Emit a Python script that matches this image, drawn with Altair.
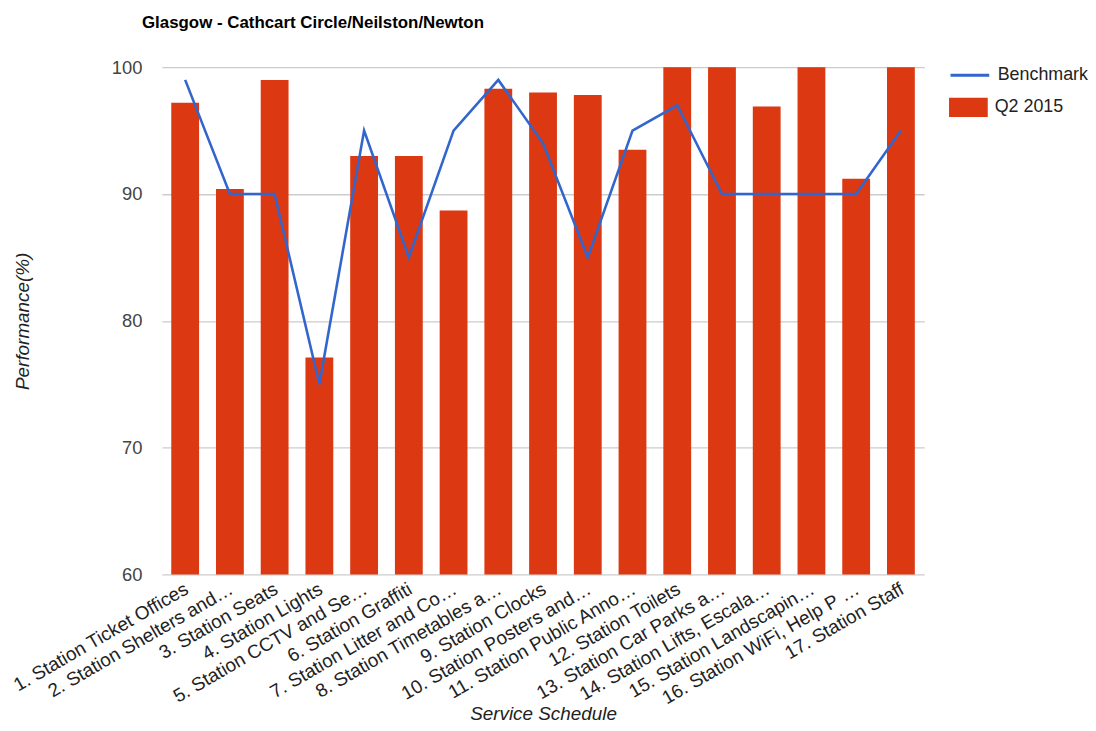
import altair as alt
import pandas as pd

categories = [
    "1. Station Ticket Offices",
    "2. Station Shelters and…",
    "3. Station Seats",
    "4. Station Lights",
    "5. Station CCTV and Se…",
    "6. Station Graffiti",
    "7. Station Litter and Co…",
    "8. Station Timetables a…",
    "9. Station Clocks",
    "10. Station Posters and…",
    "11. Station Public Anno…",
    "12. Station Toilets",
    "13. Station Car Parks a…",
    "14. Station Lifts, Escala…",
    "15. Station Landscapin…",
    "16. Station WiFi, Help P …",
    "17. Station Staff",
]
q2_2015 = [97.2, 90.4, 99.0, 77.1, 93.0, 93.0, 88.7, 98.3, 98.0, 97.8, 93.5, 100, 100, 96.9, 100, 91.2, 100]
benchmark = [99, 90, 90, 75, 95, 85, 95, 99, 94, 85, 95, 97, 90, 90, 90, 90, 95]

df = pd.DataFrame({"cat": categories, "q2": q2_2015, "bench": benchmark})

FONT = "Liberation Sans"

x = alt.X(
    "cat:N",
    sort=categories,
    scale=alt.Scale(paddingInner=0.378, paddingOuter=0.21),
    axis=alt.Axis(
        title="Service Schedule",
        titleFont=FONT, titleFontSize=19, titleFontStyle="italic", titleFontWeight="normal",
        titleColor="#222222", titleY=146, titleBaseline="alphabetic",
        labelAngle=-30, labelAlign="right", labelBaseline="top",
        labelFont=FONT, labelFontSize=19, labelColor="#222222", labelPadding=5,
        labelOffset=-3,
        labelLimit=0, labelOverlap=False, ticks=False, domain=False, grid=False,
    ),
)

yaxis = alt.Axis(
    title="Performance(%)",
    titleFont=FONT, titleFontSize=19, titleFontStyle="italic", titleFontWeight="normal",
    titleColor="#222222", titleX=-140, titleBaseline="middle",
    values=[60, 70, 80, 90, 100],
    labelFont=FONT, labelFontSize=18.5, labelColor="#444444", labelPadding=20,
    ticks=False, domain=False, grid=True, gridColor="#cccccc", gridWidth=1.3,
)
yscale = alt.Scale(domain=[60, 100], nice=False, zero=False)

bars = alt.Chart(df).mark_bar().encode(
    x=x,
    y=alt.Y("q2:Q", scale=yscale, axis=yaxis),
    y2=alt.datum(60),
    color=alt.Color(
        "series:N",
        scale=alt.Scale(domain=["Q2 2015"], range=["#DC3912"]),
        legend=alt.Legend(
            title=None, orient="none", legendX=793, legendY=21, padding=0,
            symbolType="M-1,-0.5H1V0.5H-1Z", symbolSize=1521, symbolStrokeWidth=0,
            labelFont=FONT, labelFontSize=18, labelColor="#222222", labelOffset=7,
        ),
    ),
).transform_calculate(series="'Q2 2015'")

line = alt.Chart(df).mark_line(strokeWidth=2.6).encode(
    x=x,
    y=alt.Y("bench:Q", scale=yscale, axis=yaxis),
    stroke=alt.Stroke(
        "series:N",
        scale=alt.Scale(domain=["Benchmark"], range=["#3366CC"]),
        legend=alt.Legend(
            title=None, orient="none", legendX=793, legendY=-13, padding=0,
            symbolType="stroke", symbolSize=1521, symbolStrokeWidth=3,
            labelFont=FONT, labelFontSize=18, labelColor="#222222", labelOffset=7,
        ),
    ),
).transform_calculate(series="'Benchmark'")

chart = alt.layer(bars, line).resolve_scale(color="independent").properties(
    width=768,
    height=511,
    autosize=alt.AutoSizeParams(type="none"),
    padding={"left": 155, "top": 57, "right": 165, "bottom": 147},
    background="white",
    title=alt.TitleParams(
        "Glasgow - Cathcart Circle/Neilston/Newton",
        anchor="start", frame="group", font=FONT, fontSize=17, fontWeight="bold",
        color="#000000", dx=-20, offset=10, dy=-13,
    ),
).configure_view(stroke=None)

chart.save("out.html", embed_options={"renderer": "svg", "actions": False})
